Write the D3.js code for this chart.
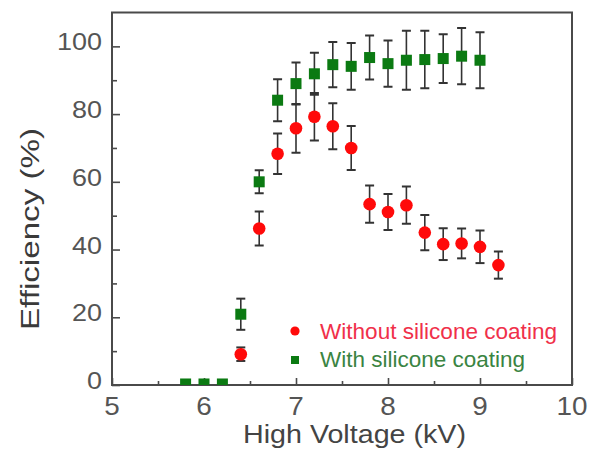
<!DOCTYPE html>
<html>
<head>
<meta charset="utf-8">
<script src="https://cdn.jsdelivr.net/npm/d3@7"></script>
<style>
  html, body { margin: 0; padding: 0; background: #fff; }
  svg { display: block; font-family: "Liberation Sans", Arial, sans-serif; }
</style>
</head>
<body>
<svg id="chart" width="591" height="453"></svg>
<script>
// ---- data ----
const voltWithout = [6.4, 6.6, 6.8, 7.0, 7.2, 7.4, 7.6, 7.8, 8.0, 8.2, 8.4, 8.6, 8.8, 9.0, 9.2];
const effWithout  = [9.1, 46.2, 68.3, 75.8, 79.2, 76.4, 70.0, 53.4, 51.1, 53.1, 45.0, 41.6, 41.8, 40.8, 35.4];
const errWithout  = [2.0, 5.0, 6.0, 7.2, 7.0, 6.8, 6.5, 5.5, 5.3, 5.5, 5.2, 4.7, 4.4, 4.8, 4.0];

const voltWith = [5.8, 6.0, 6.2, 6.4, 6.6, 6.8, 7.0, 7.2, 7.4, 7.6, 7.8, 8.0, 8.2, 8.4, 8.6, 8.8, 9.0];
const effWith  = [0.3, 0.3, 0.3, 20.9, 60.0, 84.1, 89.0, 91.9, 94.6, 94.1, 96.7, 94.9, 95.9, 96.1, 96.4, 97.1, 95.9];
const errWith  = [0, 0, 0, 4.6, 3.4, 6.2, 6.2, 6.2, 6.7, 6.9, 6.5, 6.8, 8.7, 8.5, 7.2, 8.3, 8.3];

const xTicks = [5, 6, 7, 8, 9, 10];
const xMinorTicks = [5.5, 6.5, 7.5, 8.5, 9.5];
const yTicks = [0, 20, 40, 60, 80, 100];
const yMinorTicks = [10, 30, 50, 70, 90];

const legendLabels = ["Without silicone coating", "With silicone coating"];
const xTitle = "High Voltage (kV)";
const yTitle = "Efficiency (%)";

// ---- layout ----
const L = 112, R = 572, T = 12.5, B = 385;
const svg = d3.select("#chart");
const x = d3.scaleLinear().domain([5, 10]).range([L, R]);
const y = d3.scaleLinear().domain([0, 110]).range([B, T]);

const frameColor = "#4a4a4a";
const redC = "#ff0a0a", greenC = "#0b7a12";

svg.append("defs").append("clipPath").attr("id", "clip")
  .append("rect").attr("x", L).attr("y", T).attr("width", R - L).attr("height", B - T);

// axes with inward ticks
const gx = svg.append("g").attr("transform", `translate(0,${B})`)
  .call(d3.axisTop(x).tickValues(xTicks).tickSize(7).tickFormat(""));
const gxm = svg.append("g").attr("transform", `translate(0,${B})`)
  .call(d3.axisTop(x).tickValues(xMinorTicks).tickSize(4).tickFormat(""));
const gy = svg.append("g").attr("transform", `translate(${L},0)`)
  .call(d3.axisRight(y).tickValues(yTicks).tickSize(8).tickFormat(""));
const gym = svg.append("g").attr("transform", `translate(${L},0)`)
  .call(d3.axisRight(y).tickValues(yMinorTicks).tickSize(5).tickFormat(""));
[gx, gxm, gy, gym].forEach(g => {
  g.select(".domain").remove();
  g.selectAll("line").attr("stroke", frameColor).attr("stroke-width", 1.6);
});

// frame
svg.append("rect").attr("x", L).attr("y", T).attr("width", R - L).attr("height", B - T)
  .attr("fill", "none").attr("stroke", frameColor).attr("stroke-width", 2);

// tick labels
svg.append("g").selectAll("text").data(xTicks).join("text")
  .attr("x", d => x(d)).attr("y", 415)
  .attr("text-anchor", "middle").attr("font-size", 25).attr("fill", "#555")
  .attr("textLength", d => String(d).length * 15.5).attr("lengthAdjust", "spacingAndGlyphs")
  .text(d => d);
svg.append("g").selectAll("text").data(yTicks).join("text")
  .attr("x", 102).attr("y", d => y(d) + 4)
  .attr("text-anchor", "end").attr("font-size", 24).attr("fill", "#555")
  .attr("textLength", d => String(d).length * 15).attr("lengthAdjust", "spacingAndGlyphs")
  .text(d => d);

// axis titles
svg.append("text").attr("x", 354.5).attr("y", 443).attr("text-anchor", "middle")
  .attr("font-size", 26).attr("fill", "#444")
  .attr("textLength", 223).attr("lengthAdjust", "spacingAndGlyphs")
  .text(xTitle);
svg.append("text").attr("transform", `translate(39,229) rotate(-90)`)
  .attr("text-anchor", "middle").attr("font-size", 26).attr("fill", "#3a3a3a")
  .attr("textLength", 202).attr("lengthAdjust", "spacingAndGlyphs")
  .text(yTitle);

// data plotting
const plot = svg.append("g").attr("clip-path", "url(#clip)");

function errorBars(xs, ys, es) {
  const g = plot.append("g").attr("stroke", "#333").attr("stroke-width", 1.6);
  xs.forEach((xv, i) => {
    if (es[i] <= 0) return;
    const cx = x(xv), y1 = y(ys[i] - es[i]), y2 = y(ys[i] + es[i]);
    g.append("line").attr("x1", cx).attr("x2", cx).attr("y1", y1).attr("y2", y2);
    g.append("line").attr("x1", cx - 4.5).attr("x2", cx + 4.5).attr("y1", y1).attr("y2", y1).attr("stroke-width", 2);
    g.append("line").attr("x1", cx - 4.5).attr("x2", cx + 4.5).attr("y1", y2).attr("y2", y2).attr("stroke-width", 2);
  });
}

errorBars(voltWith, effWith, errWith);
errorBars(voltWithout, effWithout, errWithout);

plot.append("g").selectAll("rect").data(voltWith).join("rect")
  .attr("x", (d) => x(d) - 5.5).attr("y", (d, i) => y(effWith[i]) - 5.5)
  .attr("width", 11).attr("height", 11).attr("fill", greenC);

plot.append("g").selectAll("circle").data(voltWithout).join("circle")
  .attr("cx", d => x(d)).attr("cy", (d, i) => y(effWithout[i]))
  .attr("r", 6.3).attr("fill", redC);

// legend
const leg = svg.append("g");
leg.append("circle").attr("cx", 295).attr("cy", 331).attr("r", 4.6).attr("fill", redC);
leg.append("rect").attr("x", 291).attr("y", 356).attr("width", 8).attr("height", 8).attr("fill", greenC);
leg.append("text").attr("x", 320).attr("y", 338.5).attr("font-size", 21.5).attr("fill", "#f0304a")
  .attr("textLength", 237).attr("lengthAdjust", "spacingAndGlyphs")
  .text(legendLabels[0]);
leg.append("text").attr("x", 320).attr("y", 367).attr("font-size", 21.5).attr("fill", "#3a8442")
  .attr("textLength", 205).attr("lengthAdjust", "spacingAndGlyphs")
  .text(legendLabels[1]);
</script>
</body>
</html>
